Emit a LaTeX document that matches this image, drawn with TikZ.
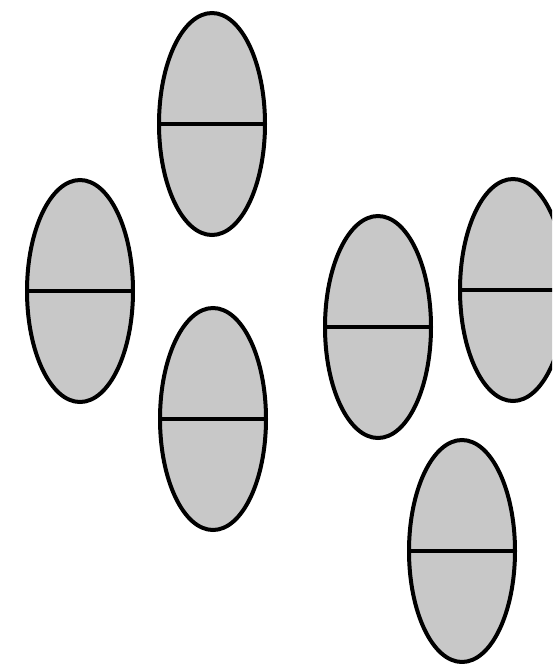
\documentclass[tikz,border=0pt]{standalone}
\usepackage{tikz}
\usetikzlibrary{shapes.geometric}
\definecolor{cellgray}{RGB}{200,200,200}

\begin{document}
\begin{tikzpicture}[
  x=1pt,y=-1pt,
  cell/.style={ellipse,draw=black,line width=4pt,fill=cellgray,minimum width=106pt,minimum height=222pt,inner sep=0pt},
  split/.style={line width=4pt}
]
\useasboundingbox (0,0) rectangle (552,664);
\clip (0,0) rectangle (552,664);
\node[cell] (topc) at (212,124) {};
\node[cell] (left) at (80,291) {};
\node[cell] (lowc) at (213,419) {};
\node[cell] (midr) at (378,327) {};
\node[cell] (farr) at (513,290) {};
\node[cell] (botr) at (462,551) {};
\foreach \c in {topc,left,lowc,midr,farr,botr}
  \draw[split] (\c.west) -- (\c.east);
\end{tikzpicture}
\end{document}
